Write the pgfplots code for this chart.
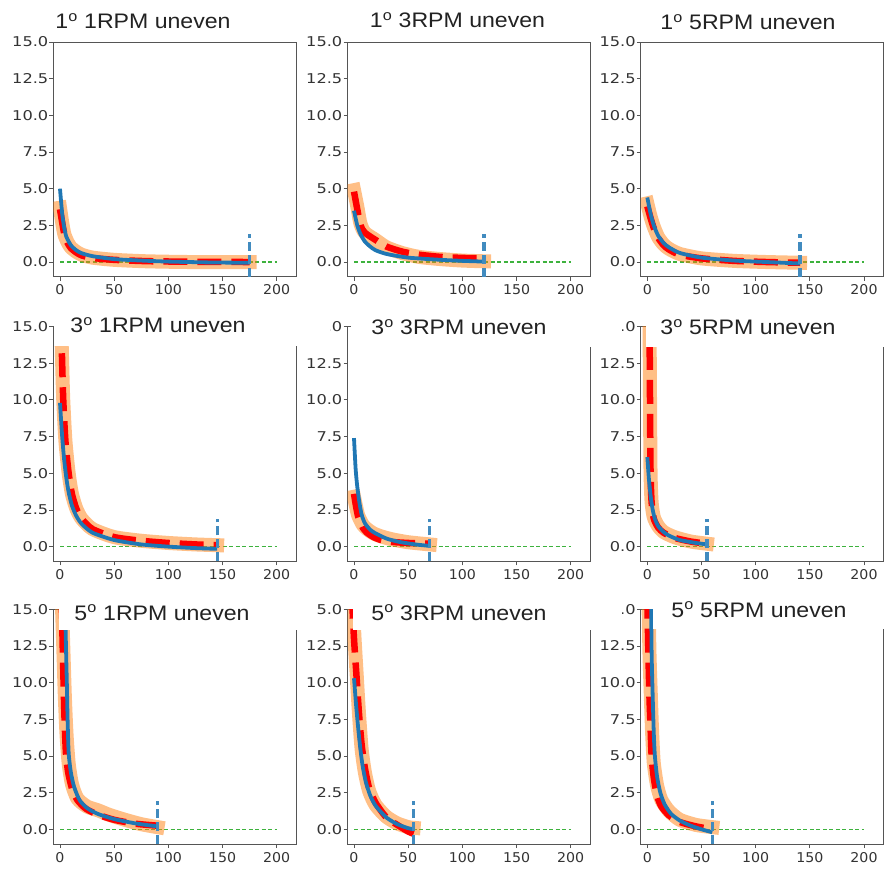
\documentclass[border=0pt]{standalone}
\usepackage{pgfplots}
\pgfplotsset{compat=1.18}
\usepackage{fontspec}
\setmainfont{DejaVu Sans}
\newfontfamily\titlefont{Liberation Sans}
\definecolor{tabblue}{HTML}{1F77B4}
\definecolor{taborange}{HTML}{FF7F0E}
\definecolor{greenline}{HTML}{3DB23D}
\definecolor{spine}{HTML}{555555}
\definecolor{ticktext}{HTML}{333333}
\definecolor{titletext}{HTML}{222222}

\pgfplotsset{
  panel/.style={
    scale only axis, width=242.7pt, height=234.7pt, anchor=south west,
    xmin=-6, xmax=218, ymin=-1, ymax=15,
    xtick={0,50,100,150,200}, ytick={0,2.5,5,7.5,10,12.5,15},
    tick align=outside, major tick length=4pt,
    xtick pos=left, ytick pos=left,
    axis line style={spine, line width=0.9pt},
    tick style={spine, line width=0.9pt},
    /pgf/number format/assume math mode=true,
    tick label style={font=\fontsize{13.5}{13.5}\selectfont, text=ticktext},
    xticklabel={\scalebox{1.05}[1]{\pgfmathprintnumber{\tick}}},
    yticklabel={\scalebox{1.2}[1]{\pgfmathprintnumber[fixed,fixed zerofill,precision=1]{\tick}}},
    xticklabel style={inner sep=1.5pt, yshift=-2.5pt},
    yticklabel style={inner sep=1pt},
  },
  band/.style={taborange, opacity=0.5, line width=14pt, line cap=rect, line join=round, smooth, tension=0.4, no markers},
  redl/.style={red, line width=6.5pt, dash pattern=on 24pt off 10pt, smooth, tension=0.4, no markers},
  bluel/.style={tabblue, line width=3.8pt, smooth, tension=0.4, no markers, line join=round},
  greenl/.style={greenline, line width=1.6pt, dash pattern=on 4pt off 2.5pt, no markers},
  vl/.style={tabblue!85!white, line width=3.2pt, dash pattern=on 9pt off 4pt, no markers},
}
\newcommand{\ttl}[1]{{\titlefont\color{titletext}\fontsize{21}{21}\selectfont\scalebox{1.1}[1]{#1}}}

\begin{document}
\begin{tikzpicture}[x=1pt,y=1pt]
\path[use as bounding box] (0,0) rectangle (886,871);

% ---------- Row 1 ----------
\begin{axis}[panel, at={(53.5pt,594.3pt)}]
\addplot[greenl] coordinates {(0,0) (200,0)};
\addplot[band] coordinates {(0,3.7) (2,2.7) (4,1.9) (7,1.35) (10,1.0) (15,0.7) (20,0.5) (30,0.3) (50,0.15) (80,0.05) (120,0.0) (175,0.0)};
\addplot[redl] coordinates {(0,3.6) (2,2.7) (4,1.9) (7,1.3) (10,0.95) (15,0.65) (20,0.45) (30,0.28) (50,0.15) (80,0.06) (120,0.02) (175,0.0)};
\addplot[bluel] coordinates {(0,5.0) (2,3.3) (4,2.3) (6,1.7) (10,1.15) (15,0.8) (20,0.6) (30,0.4) (50,0.2) (75,0.1) (100,0.03) (140,-0.03) (175,-0.05)};
\addplot[vl] coordinates {(175,-1) (175,1.9)};
\end{axis}

\begin{axis}[panel, at={(347.5pt,594.3pt)}]
\addplot[greenl] coordinates {(0,0) (200,0)};
\addplot[band] coordinates {(0,4.9) (3,3.8) (6,2.6) (10,2.0) (20,1.5) (30,1.0) (45,0.6) (60,0.35) (80,0.2) (100,0.1) (120,0.05)};
\addplot[redl] coordinates {(0,4.8) (3,3.6) (6,2.5) (10,2.0) (20,1.5) (30,1.05) (45,0.7) (60,0.5) (80,0.35) (100,0.28) (120,0.25)};
\addplot[bluel] coordinates {(0,3.5) (3,2.5) (6,1.9) (10,1.4) (15,1.05) (20,0.8) (30,0.55) (50,0.3) (80,0.15) (100,0.08) (120,0.03)};
\addplot[vl] coordinates {(120,-1) (120,1.9)};
\end{axis}

\begin{axis}[panel, at={(640.8pt,594.3pt)}]
\addplot[greenl] coordinates {(0,0) (200,0)};
\addplot[band] coordinates {(0,4.0) (3,3.1) (6,2.4) (10,1.7) (15,1.2) (20,0.9) (30,0.55) (50,0.25) (80,0.08) (110,0.0) (141,-0.05)};
\addplot[redl] coordinates {(0,3.8) (3,3.0) (6,2.3) (10,1.65) (15,1.15) (20,0.85) (30,0.5) (50,0.25) (80,0.08) (110,0.0) (141,-0.05)};
\addplot[bluel] coordinates {(0,4.4) (3,3.3) (6,2.5) (10,1.8) (15,1.3) (20,1.0) (30,0.62) (50,0.3) (80,0.1) (110,0.0) (141,-0.1)};
\addplot[vl] coordinates {(141,-1) (141,1.9)};
\end{axis}

% ---------- Row 2 ----------
\begin{axis}[panel, at={(53.5pt,309.7pt)}]
\addplot[greenl] coordinates {(0,0) (200,0)};
\addplot[band] coordinates {(1,15.5) (2,12.5) (3,10) (5,7.2) (8,5.0) (11,3.6) (15,2.6) (20,1.9) (30,1.2) (50,0.65) (75,0.4) (100,0.25) (125,0.15) (145,0.1)};
\addplot[redl] coordinates {(1,15.5) (2,12.5) (3,10) (5,7.2) (8,5.0) (11,3.6) (15,2.6) (20,1.9) (30,1.2) (50,0.65) (75,0.4) (100,0.25) (125,0.15) (145,0.1)};
\addplot[bluel] coordinates {(0,9.8) (2,7.5) (4,5.8) (6,4.6) (8,3.7) (11,2.8) (15,2.1) (20,1.55) (30,0.95) (50,0.45) (75,0.15) (100,0.0) (125,-0.1) (145,-0.15)};
\addplot[vl] coordinates {(145,-1) (145,1.9)};
\end{axis}

\begin{axis}[panel, at={(347.5pt,309.7pt)}]
\addplot[greenl] coordinates {(0,0) (200,0)};
\addplot[band] coordinates {(0,3.4) (2,2.7) (4,2.1) (8,1.5) (12,1.2) (18,0.9) (25,0.7) (35,0.5) (50,0.3) (70,0.15)};
\addplot[redl] coordinates {(0,3.6) (2,2.7) (4,2.0) (8,1.3) (12,0.95) (18,0.65) (25,0.45) (35,0.32) (50,0.25) (70,0.2)};
\addplot[bluel] coordinates {(0,7.4) (1.5,5.3) (3,4.1) (5,3.0) (7,2.2) (10,1.6) (15,1.15) (20,0.9) (30,0.55) (40,0.35) (50,0.22) (60,0.12) (70,0.05)};
\addplot[vl] coordinates {(70,-1) (70,1.9)};
\end{axis}

\begin{axis}[panel, at={(640.8pt,309.7pt)}]
\addplot[greenl] coordinates {(0,0) (200,0)};
\addplot[band] coordinates {(2,16) (2.5,10) (3,5) (4,3.0) (6,2.0) (10,1.4) (15,1.0) (25,0.65) (40,0.35) (55,0.2)};
\addplot[redl] coordinates {(2,16) (2.5,10) (3,5) (4,3.0) (6,1.9) (10,1.3) (15,0.95) (25,0.6) (40,0.35) (55,0.2)};
\addplot[bluel] coordinates {(0,6.1) (1.5,4.6) (3,3.5) (5,2.5) (7,1.9) (10,1.4) (15,1.0) (20,0.75) (30,0.45) (45,0.25) (55,0.15)};
\addplot[vl] coordinates {(55,-1) (55,1.9)};
\end{axis}

% ---------- Row 3 ----------
\begin{axis}[panel, at={(53.5pt,27pt)}]
\addplot[greenl] coordinates {(0,0) (200,0)};
\addplot[band] coordinates {(1.5,16) (3,12.5) (4.5,9) (6,6.5) (8,4.5) (11,3.1) (16,2.1) (25,1.55) (35,1.3) (45,1.0) (60,0.65) (75,0.35) (90,0.15)};
\addplot[redl] coordinates {(1.5,16) (2.5,12.5) (3.3,10) (4.2,7.5) (5.5,5.2) (7.5,3.9) (11,2.8) (16,2.0) (24,1.4) (35,1.0) (50,0.65) (70,0.38) (90,0.25)};
\addplot[bluel] coordinates {(4.5,16) (5.5,12.5) (6.3,10) (7,7.5) (8,5.2) (10,3.9) (13,2.9) (18,2.0) (25,1.45) (35,1.05) (50,0.7) (70,0.4) (90,0.2)};
\addplot[vl] coordinates {(90,-1) (90,1.9)};
\end{axis}

\begin{axis}[panel, at={(347.5pt,27pt)}]
\addplot[greenl] coordinates {(0,0) (200,0)};
\addplot[band] coordinates {(-1.5,16) (0.5,13) (2.5,10.5) (4.5,8) (7,5.5) (10,3.9) (14,2.6) (20,1.65) (30,0.85) (40,0.4) (50,0.15) (55,0.1)};
\addplot[redl] coordinates {(-2,16) (0,13) (2,10.8) (4.5,8) (7,5.8) (10,4.2) (14,2.8) (20,1.8) (30,0.8) (40,0.3) (50,-0.15) (55,-0.3)};
\addplot[bluel] coordinates {(0,10.3) (2,8.4) (4,6.8) (6,5.4) (8,4.3) (11,3.2) (15,2.3) (20,1.6) (30,0.8) (40,0.35) (50,0.08) (55,0.0)};
\addplot[vl] coordinates {(55,-1) (55,1.9)};
\end{axis}

\begin{axis}[panel, at={(640.8pt,27pt)}]
\addplot[greenl] coordinates {(0,0) (200,0)};
\addplot[band] coordinates {(1,16) (2,12) (3.3,9) (4.5,6.5) (6,4.5) (9,3.0) (13,2.0) (20,1.25) (30,0.65) (45,0.3) (60,0.15)};
\addplot[redl] coordinates {(0,16) (1,12) (2,9) (3,7) (4,5) (6,3.5) (9,2.3) (13,1.55) (20,0.95) (30,0.5) (45,0.2) (60,0.0)};
\addplot[bluel] coordinates {(3.5,16) (4,12) (5,9) (6,6.5) (7,5.0) (9,3.6) (12,2.5) (16,1.7) (22,1.05) (30,0.6) (40,0.25) (50,0.0) (60,-0.2)};
\addplot[vl] coordinates {(60,-1) (60,1.9)};
\end{axis}

% ---------- title patches (pasted title strips) ----------
\fill[white] (54.2,525) rectangle (300,575);
\fill[white] (351,524) rectangle (594,575);
\fill[white] (300,534) rectangle (330,556);
\fill[white] (646,524) rectangle (890,575);
\fill[white] (594,534) rectangle (622,556);
\fill[white] (58.5,241) rectangle (300,281);
\fill[white] (353,241) rectangle (594,281);
\fill[white] (300,251) rectangle (317,271);
\fill[white] (653,242) rectangle (890,281);
\fill[white] (594,251) rectangle (622,271);

% ---------- titles ----------
\node[anchor=base, inner sep=0] at (143,842) {\ttl{1\textsuperscript{o} 1RPM uneven}};
\node[anchor=base, inner sep=0] at (457.5,843) {\ttl{1\textsuperscript{o} 3RPM uneven}};
\node[anchor=base, inner sep=0] at (748,841) {\ttl{1\textsuperscript{o} 5RPM uneven}};
\node[anchor=base, inner sep=0] at (158,538) {\ttl{3\textsuperscript{o} 1RPM uneven}};
\node[anchor=base, inner sep=0] at (459,536) {\ttl{3\textsuperscript{o} 3RPM uneven}};
\node[anchor=base, inner sep=0] at (748,536) {\ttl{3\textsuperscript{o} 5RPM uneven}};
\node[anchor=base, inner sep=0] at (162,251) {\ttl{5\textsuperscript{o} 1RPM uneven}};
\node[anchor=base, inner sep=0] at (459,251) {\ttl{5\textsuperscript{o} 3RPM uneven}};
\node[anchor=base, inner sep=0] at (759,254) {\ttl{5\textsuperscript{o} 5RPM uneven}};
\end{tikzpicture}
\end{document}
